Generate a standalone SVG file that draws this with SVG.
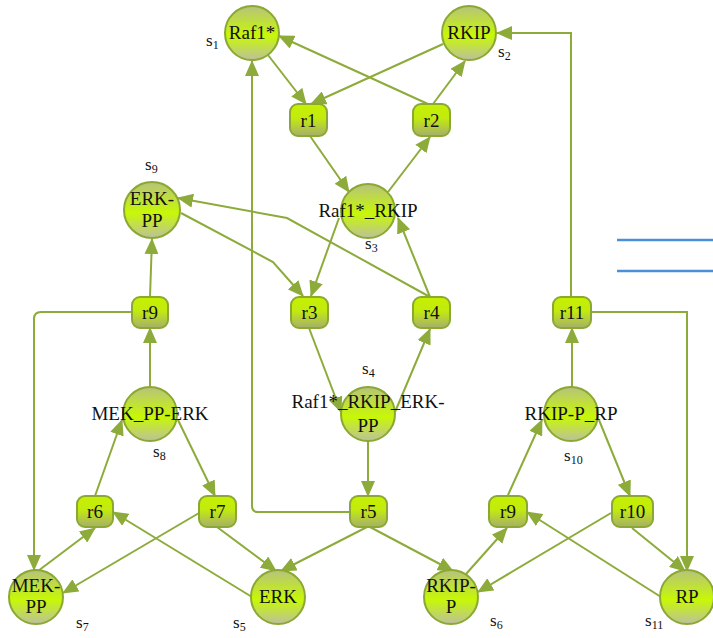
<svg xmlns="http://www.w3.org/2000/svg" width="713" height="638" viewBox="0 0 713 638">
<defs>
<linearGradient id="gc" x1="0" y1="0" x2="0" y2="1">
<stop offset="0" stop-color="#b6c27c"/>
<stop offset="0.55" stop-color="#c8f806"/>
<stop offset="1" stop-color="#bcc09c"/>
</linearGradient>
<linearGradient id="gr" x1="0" y1="0" x2="0" y2="1">
<stop offset="0" stop-color="#c6f000"/>
<stop offset="0.45" stop-color="#c2ea10"/>
<stop offset="1" stop-color="#a6ae6c"/>
</linearGradient>
<marker id="ah" markerUnits="userSpaceOnUse" markerWidth="16" markerHeight="14" refX="15" refY="7" orient="auto">
<path d="M0,0 L16,7 L0,14 z" fill="#8dab3a"/>
</marker>
<style>
.c{fill:url(#gc);stroke:#8aa832;stroke-width:2}
.r{fill:url(#gr);stroke:#8aa832;stroke-width:2}
.t{font-family:"Liberation Serif",serif;font-size:19px;fill:#111;text-anchor:middle}
.s{font-family:"Liberation Serif",serif;font-size:17px;fill:#111}
.sub{font-size:12px}
#edges path{fill:none;stroke:#8dab3a;stroke-width:2;marker-end:url(#ah)}
</style>
</defs>
<rect width="713" height="638" fill="#fff"/>
<line x1="617" y1="240" x2="713" y2="240" stroke="#4a90d9" stroke-width="2.5"/>
<line x1="617" y1="271" x2="713" y2="271" stroke="#4a90d9" stroke-width="2.5"/>
<g id="edges">
<path d="M268,55 L306,104"/>
<path d="M443,44 L311,104"/>
<path d="M428,104 L279,36"/>
<path d="M433,104 L465,61"/>
<path d="M310,136 L349,192"/>
<path d="M388,192 L430,137"/>
<path d="M339,218 L311,296"/>
<path d="M181,213 L273,262 L303,296"/>
<path d="M430,297 L287,218 L178,198"/>
<path d="M430,297 L398,218"/>
<path d="M150,297 L152,239"/>
<path d="M309,328 L341,412"/>
<path d="M395,412 L430,329"/>
<path d="M368,441 L368,496"/>
<path d="M350,512 H258 Q252,512 252,506 V61"/>
<path d="M367,527 L281,571"/>
<path d="M370,527 L453,571"/>
<path d="M217,527 L276,571"/>
<path d="M252,597 L113,512"/>
<path d="M38,571 L95,528"/>
<path d="M199,513 L63,593"/>
<path d="M95,496 L122,420"/>
<path d="M178,420 L215,496"/>
<path d="M150,388 L150,328"/>
<path d="M132,312 H41 Q34,312 34,319 V570"/>
<path d="M466,574 L507,528"/>
<path d="M508,495 L542,420"/>
<path d="M599,420 L630,496"/>
<path d="M632,528 L685,571"/>
<path d="M661,597 L527,512"/>
<path d="M611,513 L478,592"/>
<path d="M572,388 L572,328"/>
<path d="M571,297 V33 H497"/>
<path d="M591,312 H687 V571"/>
</g>
<g id="s1"><circle class="c" cx="252" cy="33" r="27"/><text class="t" x="252" y="39">Raf1*</text><text class="s" x="206" y="46">s<tspan class="sub" dy="3">1</tspan></text></g>
<g id="s2"><circle class="c" cx="469" cy="33" r="27"/><text class="t" x="469" y="39">RKIP</text><text class="s" x="498" y="57">s<tspan class="sub" dy="3">2</tspan></text></g>
<g id="s3"><circle class="c" cx="368" cy="211" r="27"/><text class="t" x="368" y="217">Raf1*_RKIP</text><text class="s" x="365" y="249">s<tspan class="sub" dy="3">3</tspan></text></g>
<g id="s9"><circle class="c" cx="152" cy="210" r="28"/><text class="t" x="152" y="205">ERK-</text><text class="t" x="152" y="227">PP</text><text class="s" x="145" y="170">s<tspan class="sub" dy="3">9</tspan></text></g>
<g id="s4"><circle class="c" cx="368" cy="414" r="27"/><text class="t" x="368" y="408">Raf1*_RKIP_ERK-</text><text class="t" x="368" y="432">PP</text><text class="s" x="362" y="374">s<tspan class="sub" dy="3">4</tspan></text></g>
<g id="s8"><circle class="c" cx="150" cy="414" r="27"/><text class="t" x="150" y="420">MEK_PP-ERK</text><text class="s" x="153" y="457">s<tspan class="sub" dy="3">8</tspan></text></g>
<g id="s10"><circle class="c" cx="571" cy="414" r="27"/><text class="t" x="571" y="420">RKIP-P_RP</text><text class="s" x="564" y="461">s<tspan class="sub" dy="3">10</tspan></text></g>
<g id="s7"><circle class="c" cx="36" cy="597" r="27"/><text class="t" x="36" y="592">MEK-</text><text class="t" x="36" y="613">PP</text><text class="s" x="76" y="628">s<tspan class="sub" dy="3">7</tspan></text></g>
<g id="s5"><circle class="c" cx="278" cy="597" r="27"/><text class="t" x="278" y="603">ERK</text><text class="s" x="233" y="628">s<tspan class="sub" dy="3">5</tspan></text></g>
<g id="s6"><circle class="c" cx="451" cy="597" r="27"/><text class="t" x="451" y="592">RKIP-</text><text class="t" x="451" y="613">P</text><text class="s" x="490" y="626">s<tspan class="sub" dy="3">6</tspan></text></g>
<g id="s11"><circle class="c" cx="687" cy="597" r="27"/><text class="t" x="687" y="603">RP</text><text class="s" x="645" y="626">s<tspan class="sub" dy="3">11</tspan></text></g>
<g id="r1"><rect class="r" x="290" y="104" width="37" height="32" rx="8"/><text class="t" x="308.5" y="127">r1</text></g>
<g id="r2"><rect class="r" x="413" y="104" width="37" height="32" rx="8"/><text class="t" x="431.5" y="127">r2</text></g>
<g id="r3"><rect class="r" x="291" y="297" width="37" height="31" rx="8"/><text class="t" x="309.5" y="319">r3</text></g>
<g id="r4"><rect class="r" x="413" y="297" width="37" height="31" rx="8"/><text class="t" x="431.5" y="319">r4</text></g>
<g id="r9a"><rect class="r" x="132" y="297" width="36" height="31" rx="8"/><text class="t" x="150" y="319">r9</text></g>
<g id="r11"><rect class="r" x="553" y="297" width="38" height="31" rx="8"/><text class="t" x="572" y="319">r11</text></g>
<g id="r6"><rect class="r" x="77" y="496" width="36" height="31" rx="8"/><text class="t" x="95" y="518">r6</text></g>
<g id="r7"><rect class="r" x="199" y="496" width="37" height="31" rx="8"/><text class="t" x="217.5" y="518">r7</text></g>
<g id="r5"><rect class="r" x="350" y="496" width="37" height="31" rx="8"/><text class="t" x="368.5" y="518">r5</text></g>
<g id="r9b"><rect class="r" x="489" y="496" width="38" height="31" rx="8"/><text class="t" x="508" y="518">r9</text></g>
<g id="r10"><rect class="r" x="612" y="496" width="41" height="31" rx="8"/><text class="t" x="632.5" y="518">r10</text></g>
</svg>
